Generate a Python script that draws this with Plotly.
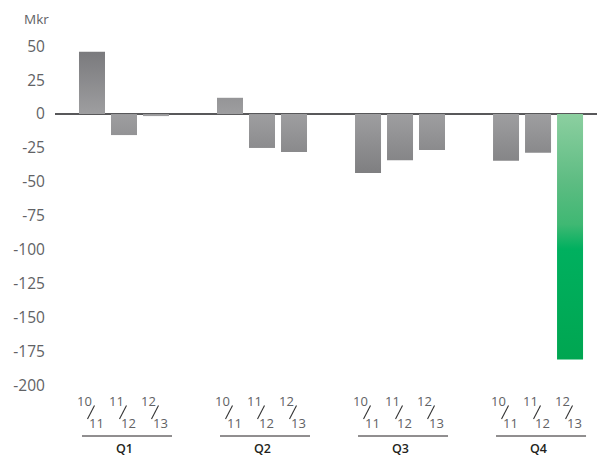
import plotly.graph_objects as go

# ---- data ----
quarters = ["Q1", "Q2", "Q3", "Q4"]
series = ["10/11", "11/12", "12/13"]
v_1011 = [46, 12, -43.5, -34.5]
v_1112 = [-15.5, -25, -34, -28.5]
v_1213 = [-1.5, -28, -26.5, -181]
highlight = ("Q4", "12/13")
y_tickvals = [50, 25, 0, -25, -50, -75, -100, -125, -150, -175, -200]
y_ticktext = ["50", "25", "0", "-25", "-50", "-75", "-100", "-125", "-150", "-175", "-200"]
unit_label = "Mkr"

# ---- layout constants ----
GROUP_PITCH = 4.3125
BAR_W = 0.8125
FONT = "Open Sans"
GRAY_TXT = "#616265"
DARK = "#231f20"

values = {"10/11": v_1011, "11/12": v_1112, "12/13": v_1213}

fig = go.Figure()
annotations = []
shapes = []

for gi, q in enumerate(quarters):
    pos = []
    for si, s in enumerate(series):
        p = gi * GROUP_PITCH + si
        pos.append(p)
        v = values[s][gi]
        xs = [p - BAR_W / 2, p + BAR_W / 2, p + BAR_W / 2, p - BAR_W / 2, p - BAR_W / 2]
        ys = [0, 0, v, v, 0]
        if (q, s) == highlight:
            grad = dict(type="vertical", start=v, stop=0,
                        colorscale=[[0, "#00a651"], [0.45, "#00b05f"], [0.55, "#3fb873"],
                                    [0.72, "#5dbc82"], [1, "#8ccfa0"]])
        elif v >= 0:
            grad = dict(type="vertical", start=0, stop=50,
                        colorscale=[[0, "#9e9ea0"], [1, "#77777a"]])
        else:
            grad = dict(type="vertical", start=-50, stop=0,
                        colorscale=[[0, "#7a7a7c"], [1, "#9e9ea0"]])
        fig.add_trace(go.Scatter(x=xs, y=ys, mode="lines", fill="toself",
                                 fillgradient=grad, line=dict(width=0),
                                 hoverinfo="skip", showlegend=False))
        top, bot = s.split("/")
        annotations.append(dict(x=p, xref="x", y=0, yref="paper", text=top,
                                showarrow=False, xanchor="center", yanchor="middle",
                                xshift=-7.5, yshift=-8.7,
                                font=dict(family=FONT, size=13, color=GRAY_TXT)))
        annotations.append(dict(x=p, xref="x", y=0, yref="paper", text=bot,
                                showarrow=False, xanchor="center", yanchor="middle",
                                xshift=4.5, yshift=-30.5,
                                font=dict(family=FONT, size=13, color=GRAY_TXT)))
        shapes.append(dict(type="line", xref="x", xsizemode="pixel", xanchor=p,
                           x0=2.5, x1=-4.5, yref="paper", ysizemode="pixel", yanchor=0,
                           y0=-13.5, y1=-27, line=dict(color="#333333", width=1.1)))
    shapes.append(dict(type="line", xref="x", x0=pos[0] - 10 / 32, x1=pos[-1] + 16 / 32,
                       yref="paper", ysizemode="pixel", yanchor=0, y0=-44, y1=-44,
                       line=dict(color=DARK, width=1)))
    annotations.append(dict(x=pos[1], xref="x", y=0, yref="paper", text=q,
                            showarrow=False, xanchor="center", yanchor="middle",
                            yshift=-56.5, borderpad=0,
                            font=dict(family=FONT, size=12.5, color=DARK, weight=600)))

annotations.append(dict(x=0, xref="paper", y=1, yref="paper", text=unit_label,
                        showarrow=False, xanchor="left", yanchor="middle",
                        xshift=-33, yshift=11.5,
                        font=dict(family=FONT, size=13.5, color=GRAY_TXT)))

fig.update_layout(
    width=598, height=457,
    margin=dict(l=55, r=1, t=30, b=65),
    paper_bgcolor="white", plot_bgcolor="white",
    font=dict(family=FONT, color=GRAY_TXT),
    xaxis=dict(range=[-1.156, 15.78], visible=False, fixedrange=True),
    yaxis=dict(range=[-205, 62], showgrid=False, zeroline=True,
               zerolinecolor="#58585a", zerolinewidth=1.5, showline=False,
               tickvals=y_tickvals, ticktext=y_ticktext,
               ticks="outside", ticklen=6, tickcolor="rgba(0,0,0,0)",
               tickfont=dict(family=FONT, size=15.5, color=GRAY_TXT),
               fixedrange=True),
    annotations=annotations,
    shapes=shapes,
)

fig.write_html("out.html", config={"displayModeBar": False},
               post_script="document.body.style.margin='0';document.body.style.overflow='hidden';")
